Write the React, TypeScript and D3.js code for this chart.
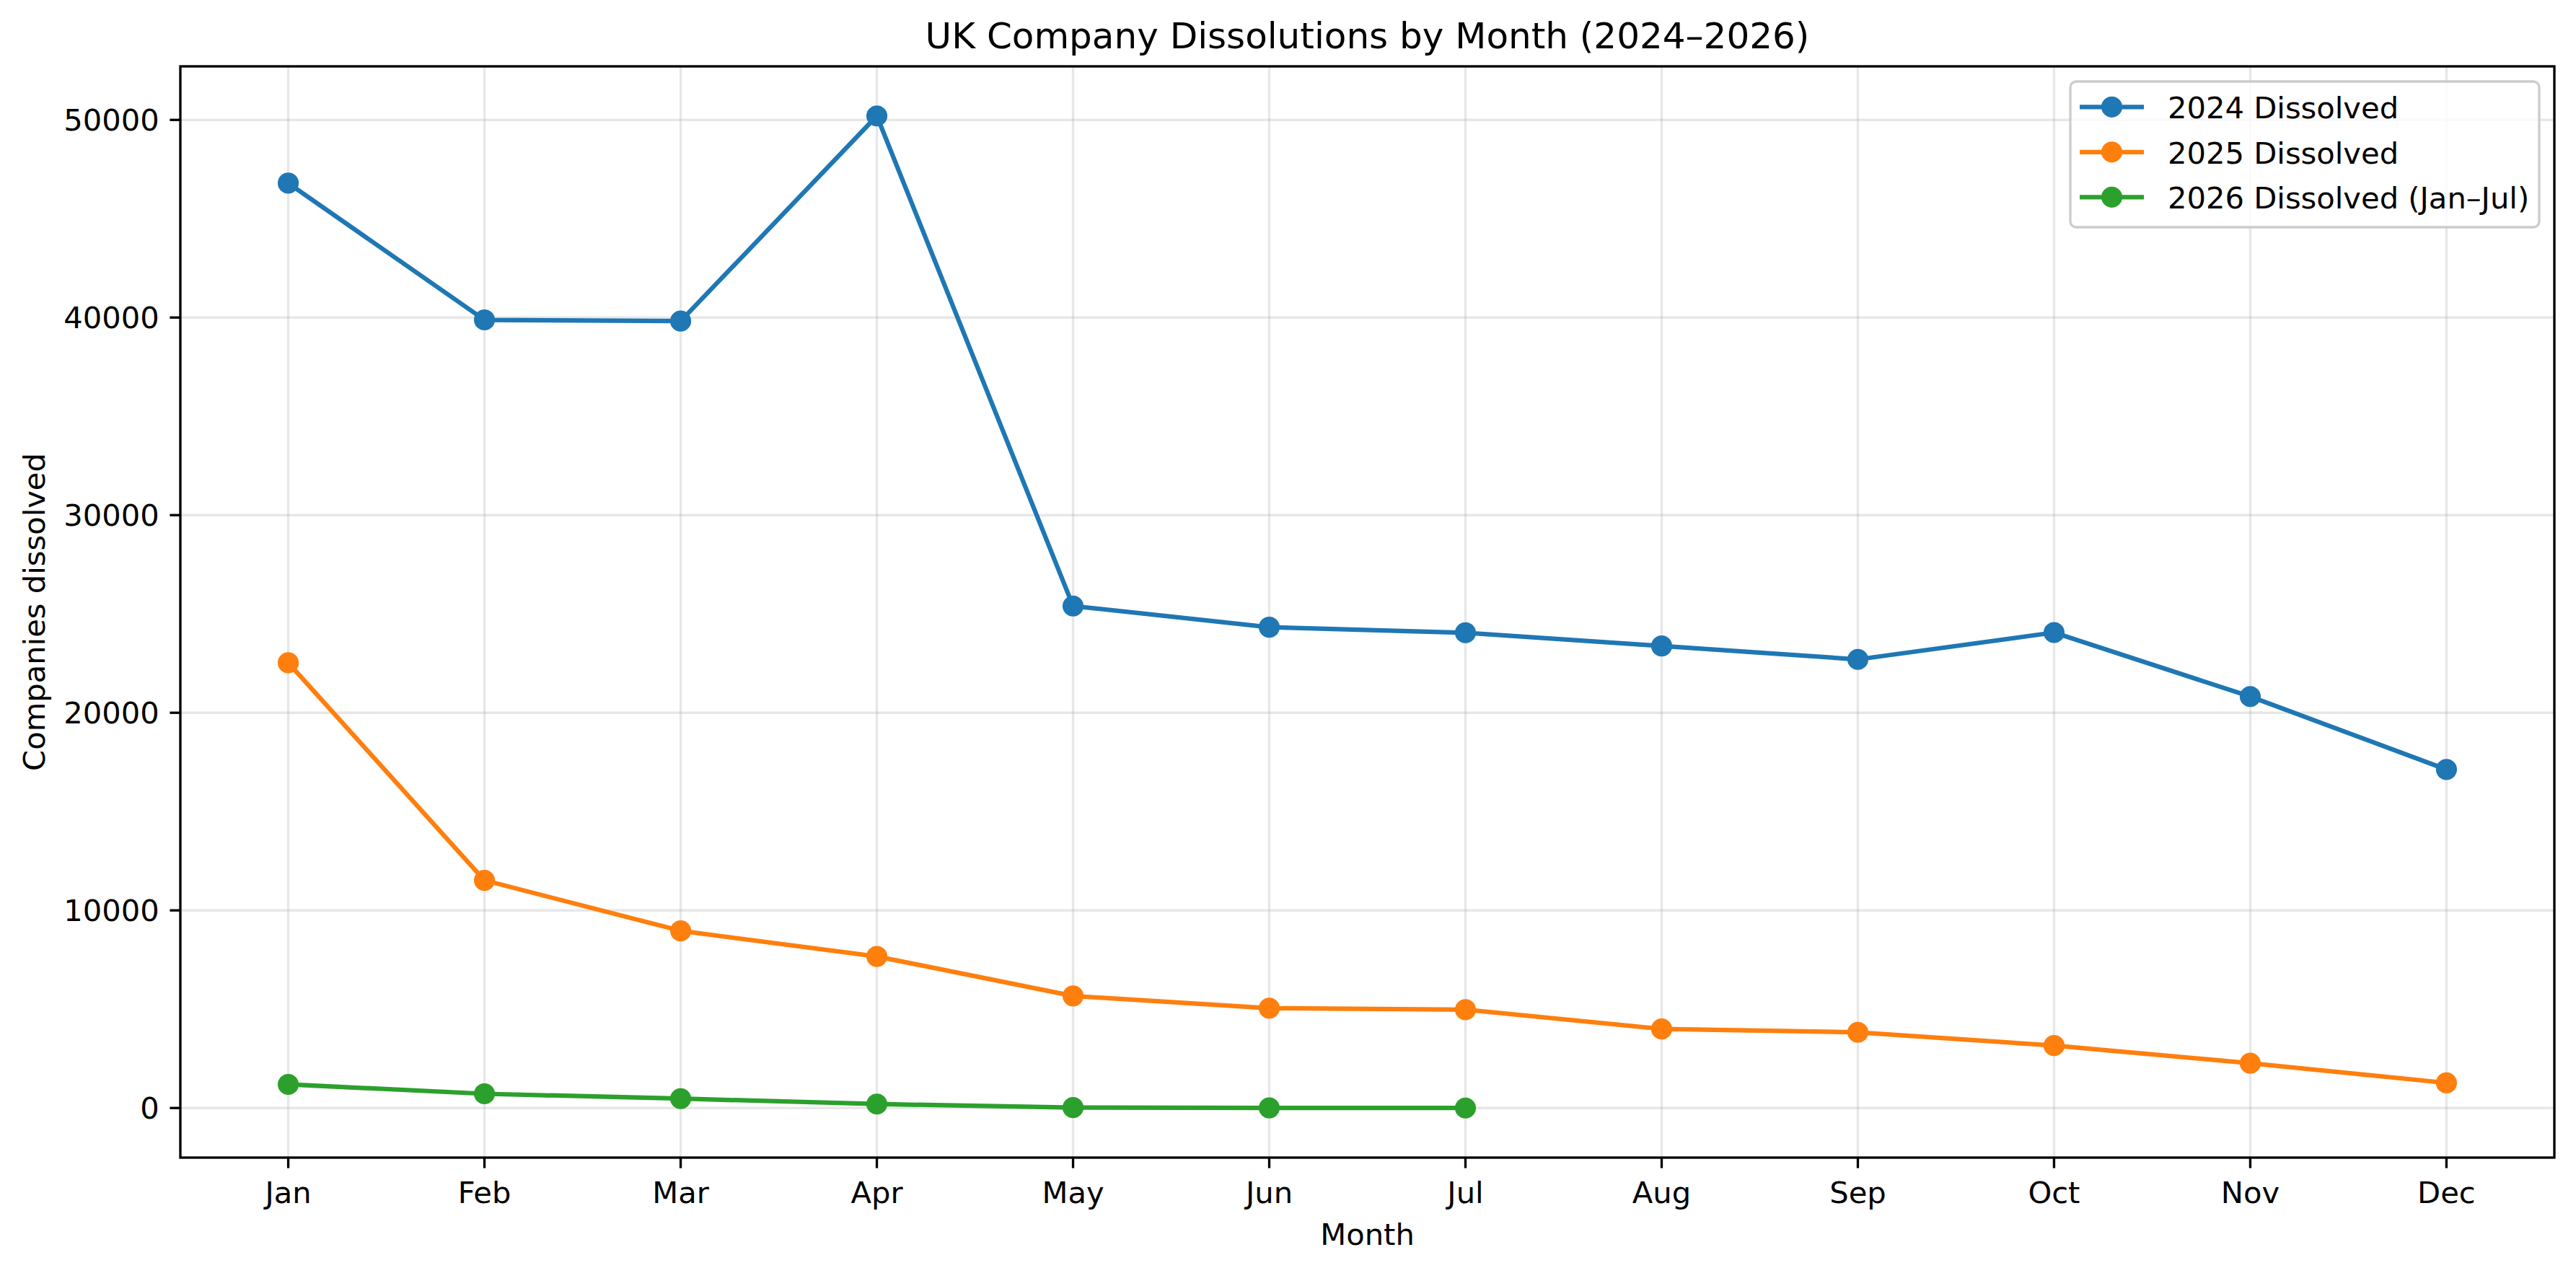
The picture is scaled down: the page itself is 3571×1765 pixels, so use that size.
import { useEffect, useRef } from "react";
import * as d3 from "d3";

// month labels along the x axis
const months = ["Jan", "Feb", "Mar", "Apr", "May", "Jun", "Jul", "Aug", "Sep", "Oct", "Nov", "Dec"];

// companies dissolved per month
const dissolved2024 = [46800, 39880, 39820, 50200, 25400, 24330, 24050, 23380, 22700, 24060, 20820, 17130];
const dissolved2025 = [22530, 11520, 8965, 7670, 5670, 5050, 4975, 4000, 3830, 3160, 2265, 1270];
const dissolved2026 = [1195, 720, 475, 200, 20, 5, 0];

const seriesNames = ["2024 Dissolved", "2025 Dissolved", "2026 Dissolved (Jan\u2013Jul)"];
const seriesColors = ["#1f77b4", "#ff7f0e", "#2ca02c"];
const yTicks = [0, 10000, 20000, 30000, 40000, 50000];

const W = 3571;
const H = 1765;
const FONT = "DejaVu Sans, sans-serif";

const App: React.FC = () => {
  const svgRef = useRef<SVGSVGElement>(null);

  useEffect(() => {
    const svg = d3.select(svgRef.current);
    svg.selectAll("*").remove();

    // axes box in pixels (matplotlib figure at 300 dpi)
    const left = 250, right = 3541, top = 92, bottom = 1605;
    const pt = 300 / 72;
    // marker: 6pt wide plus a 1pt edge
    const markerR = 3.5 * pt;

    const allSeries = [dissolved2024, dissolved2025, dissolved2026];
    const maxV = d3.max(allSeries.flat()) || 1;
    const minV = d3.min(allSeries.flat()) || 0;
    const pad = (maxV - minV) * 0.05;

    const x = d3.scaleLinear().domain([-0.55, months.length - 1 + 0.55]).range([left, right]);
    const y = d3.scaleLinear().domain([minV - pad, maxV + pad]).range([bottom, top]);

    svg.append("rect").attr("width", W).attr("height", H).attr("fill", "#fff");

    // grid
    const grid = svg.append("g").attr("stroke", "#b0b0b0").attr("stroke-opacity", 0.3).attr("stroke-width", 0.8 * pt);
    months.forEach((_, i) => {
      grid.append("line").attr("x1", x(i)).attr("x2", x(i)).attr("y1", top).attr("y2", bottom);
    });
    yTicks.forEach((t) => {
      grid.append("line").attr("x1", left).attr("x2", right).attr("y1", y(t)).attr("y2", y(t));
    });

    // series
    const line = d3
      .line<number>()
      .x((_, i) => x(i))
      .y((d) => y(d));

    allSeries.forEach((data, s) => {
      const g = svg.append("g");
      g.append("path")
        .attr("d", line(data))
        .attr("fill", "none")
        .attr("stroke", seriesColors[s])
        .attr("stroke-width", 1.5 * pt)
        .attr("stroke-linejoin", "round")
        .attr("stroke-linecap", "square");
      g.selectAll("circle")
        .data(data)
        .enter()
        .append("circle")
        .attr("cx", (_, i) => x(i))
        .attr("cy", (d) => y(d))
        .attr("r", markerR)
        .attr("fill", seriesColors[s]);
    });

    // spines
    svg.append("rect")
      .attr("x", left)
      .attr("y", top)
      .attr("width", right - left)
      .attr("height", bottom - top)
      .attr("fill", "none")
      .attr("stroke", "#000")
      .attr("stroke-width", 0.8 * pt);

    const tickLen = 3.5 * pt;
    const fs = 10 * pt;

    // x ticks
    const xt = svg.append("g");
    months.forEach((m, i) => {
      xt.append("line")
        .attr("x1", x(i)).attr("x2", x(i))
        .attr("y1", bottom).attr("y2", bottom + tickLen)
        .attr("stroke", "#000").attr("stroke-width", 0.8 * pt);
      xt.append("text")
        .attr("x", x(i))
        .attr("y", 1668)
        .attr("text-anchor", "middle")
        .attr("font-family", FONT)
        .attr("font-size", fs)
        .text(m);
    });

    // y ticks
    const ytg = svg.append("g");
    yTicks.forEach((t) => {
      ytg.append("line")
        .attr("x1", left - tickLen).attr("x2", left)
        .attr("y1", y(t)).attr("y2", y(t))
        .attr("stroke", "#000").attr("stroke-width", 0.8 * pt);
      ytg.append("text")
        .attr("x", left - tickLen - 3.5 * pt)
        .attr("y", y(t) + 15)
        .attr("text-anchor", "end")
        .attr("font-family", FONT)
        .attr("font-size", fs)
        .text(String(t));
    });

    // labels and title
    svg.append("text")
      .attr("x", (left + right) / 2)
      .attr("y", 1726)
      .attr("text-anchor", "middle")
      .attr("font-family", FONT)
      .attr("font-size", fs)
      .text("Month");

    svg.append("text")
      .attr("transform", `translate(62, ${(top + bottom) / 2}) rotate(-90)`)
      .attr("text-anchor", "middle")
      .attr("font-family", FONT)
      .attr("font-size", fs)
      .text("Companies dissolved");

    svg.append("text")
      .attr("x", (left + right) / 2)
      .attr("y", 67)
      .attr("text-anchor", "middle")
      .attr("font-family", FONT)
      .attr("font-size", 12 * pt)
      .text("UK Company Dissolutions by Month (2024\u20132026)");

    // legend
    const lg = svg.append("g");
    lg.append("rect")
      .attr("x", 2870)
      .attr("y", 113)
      .attr("width", 650)
      .attr("height", 202)
      .attr("rx", 8)
      .attr("fill", "#fff")
      .attr("fill-opacity", 0.8)
      .attr("stroke", "#cccccc")
      .attr("stroke-width", 0.8 * pt);
    seriesNames.forEach((name, s) => {
      const cy = 148.3 + s * 62.5;
      lg.append("line")
        .attr("x1", 2883).attr("x2", 2972)
        .attr("y1", cy).attr("y2", cy)
        .attr("stroke", seriesColors[s])
        .attr("stroke-width", 1.5 * pt);
      lg.append("circle")
        .attr("cx", 2927.5)
        .attr("cy", cy)
        .attr("r", markerR)
        .attr("fill", seriesColors[s]);
      lg.append("text")
        .attr("x", 3005)
        .attr("y", cy + 16)
        .attr("font-family", FONT)
        .attr("font-size", fs)
        .text(name);
    });
  }, []);

  return (
    <svg
      ref={svgRef}
      width={W}
      height={H}
      style={{ position: "absolute", left: 0, top: 0, display: "block" }}
    ></svg>
  );
};

export default App;
